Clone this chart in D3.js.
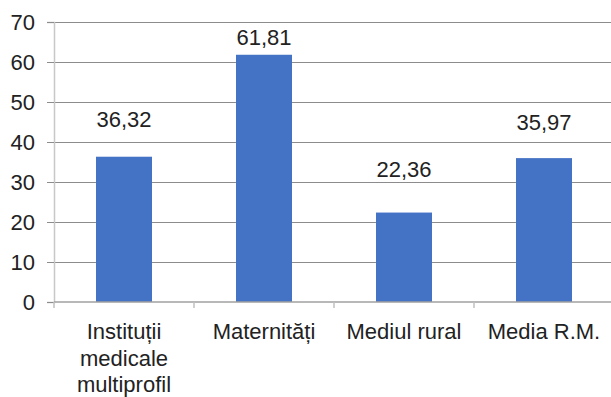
<!DOCTYPE html>
<html>
<head>
<meta charset="utf-8">
<script src="https://cdn.jsdelivr.net/npm/d3@7"></script>
<style>
  html, body { margin: 0; padding: 0; background: #fff; }
  svg { display: block; font-family: "Liberation Sans", Arial, sans-serif; }
</style>
</head>
<body>
<svg id="chart" width="611" height="397"></svg>
<script>
// Category labels (split into lines) and bar values
const categories = [
  ["Instituții", "medicale", "multiprofil"],
  ["Maternități"],
  ["Mediul rural"],
  ["Media R.M."]
];
const values = [36.32, 61.81, 22.36, 35.97];
const valueLabels = ["36,32", "61,81", "22,36", "35,97"];
const yTicks = [0, 10, 20, 30, 40, 50, 60, 70];

// Distance (px) from the top of each bar to its value label baseline
const labelLift = [30, 10, 36, 28];

const svg = d3.select("#chart");
const plotLeft = 54, plotRight = 614, plotTop = 22, plotBottom = 302;

const x = d3.scaleBand()
  .domain(d3.range(categories.length))
  .range([plotLeft, plotRight])
  .paddingInner(0.6)
  .paddingOuter(0.3);

const y = d3.scaleLinear().domain([0, 70]).range([plotBottom, plotTop]);

// Horizontal gridlines
svg.append("g")
  .selectAll("line")
  .data(yTicks.filter(d => d > 0))
  .join("line")
  .attr("x1", plotLeft).attr("x2", plotRight)
  .attr("y1", d => y(d)).attr("y2", d => y(d))
  .attr("stroke", "#8c8c8c").attr("stroke-width", 1)
  .attr("shape-rendering", "crispEdges");

// Left axis with outward ticks
const yAxis = svg.append("g")
  .attr("transform", `translate(${plotLeft},0)`)
  .call(d3.axisLeft(y).tickValues(yTicks).tickSize(7).tickPadding(12).tickFormat(d3.format("d")));
yAxis.select(".domain").attr("stroke", "#c8c8c8").attr("stroke-width", 1.5);
yAxis.selectAll(".tick line").attr("stroke", "#8c8c8c");
yAxis.selectAll(".tick text")
  .attr("font-size", 22).attr("fill", "#222")
  .attr("font-family", "Liberation Sans, Arial, sans-serif");

// Bars
svg.append("g")
  .selectAll("rect")
  .data(values)
  .join("rect")
  .attr("x", (d, i) => x(i))
  .attr("y", d => y(d))
  .attr("width", x.bandwidth())
  .attr("height", d => y(0) - y(d))
  .attr("fill", "#4472c4");

// Bottom axis line and category boundary ticks
const step = x.step();
const boundaries = d3.range(categories.length + 1).map(i => x(0) - x.paddingOuter() * step + i * step);
svg.append("line")
  .attr("x1", plotLeft).attr("x2", plotRight)
  .attr("y1", y(0)).attr("y2", y(0))
  .attr("stroke", "#a0a0a0").attr("stroke-width", 1.5);
svg.append("g")
  .selectAll("line")
  .data(boundaries)
  .join("line")
  .attr("x1", d => d).attr("x2", d => d)
  .attr("y1", y(0)).attr("y2", y(0) + 6)
  .attr("stroke", "#c0c0c0").attr("stroke-width", 1.5);

// Value labels
svg.append("g")
  .selectAll("text")
  .data(values)
  .join("text")
  .attr("x", (d, i) => x(i) + x.bandwidth() / 2)
  .attr("y", (d, i) => y(d) - labelLift[i])
  .attr("text-anchor", "middle")
  .attr("font-size", 22)
  .attr("fill", "#222")
  .text((d, i) => valueLabels[i]);

// Category labels
const cat = svg.append("g")
  .selectAll("text")
  .data(categories)
  .join("text")
  .attr("text-anchor", "middle")
  .attr("font-size", 22)
  .attr("fill", "#222")
  .attr("x", (d, i) => x(i) + x.bandwidth() / 2)
  .attr("y", 339);
cat.selectAll("tspan")
  .data(d => d)
  .join("tspan")
  .attr("x", function() { return this.parentNode.getAttribute("x"); })
  .attr("dy", (d, j) => j === 0 ? 0 : 26.5)
  .text(d => d);
</script>
</body>
</html>
